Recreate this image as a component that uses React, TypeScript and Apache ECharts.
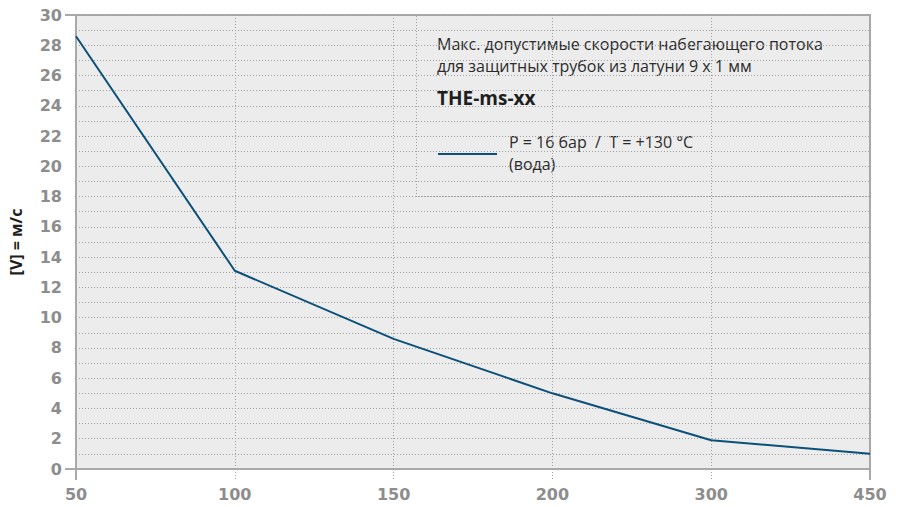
import React, { useEffect, useRef } from "react";
import * as echarts from "echarts";

const categories = ["50", "100", "150", "200", "300", "450"];
const speedValues = [28.6, 13.1, 8.6, 5.0, 1.9, 1.0];
const seriesName = "P = 16 бар / T = +130 °C";
const titleLines = ["Макс. допустимые скорости набегающего потока", "для защитных трубок из латуни 9 x 1 мм"];
const productName = "THE-ms-xx";
const legendLines = ["P = 16 бар \u00a0/\u00a0 T = +130 °C", "(вода)"];
const yAxisName = "[V] = м/с";

export default function App() {
  const ref = useRef<HTMLDivElement>(null);
  useEffect(() => {
    document.body.style.margin = "0";
    const chart = echarts.init(ref.current!, null, { renderer: "svg" });
    const axisGray = "#a9a9a9";
    const gridDot = { color: "#a0a0a0", type: [1, 2] as any, width: 1 };
    const labelStyle = { color: "#8d8d8d", fontSize: 16, fontWeight: "bold" as any, fontFamily: "DejaVu Sans" };
    const boxText = { fill: "#2b2b2b", fontSize: 16, fontFamily: "Open Sans", lineHeight: 22, letterSpacing: 0.3 };
    chart.setOption({
      animation: false,
      backgroundColor: "#ffffff",
      grid: {
        left: 76, right: 33, top: 15, bottom: 38,
        show: true, backgroundColor: "#ececec", borderColor: axisGray, borderWidth: 2,
      },
      xAxis: [
        {
          type: "category", data: categories, boundaryGap: false,
          axisLine: { show: true, lineStyle: { color: axisGray, width: 2 } },
          axisTick: { show: true, length: 11, alignWithLabel: true, lineStyle: gridDot },
          axisLabel: { ...labelStyle, margin: 17 },
          splitLine: { show: true, lineStyle: gridDot },
        },
        {
          type: "value", min: 0, max: 1, interval: 1, position: "bottom",
          axisLine: { show: false },
          axisTick: { show: true, length: 11, lineStyle: { color: axisGray, width: 2 } },
          axisLabel: { show: false }, splitLine: { show: false },
        },
      ],
      yAxis: [
        {
          type: "value", min: 0, max: 30, interval: 2,
          name: yAxisName, nameLocation: "middle", nameGap: 52, nameRotate: 90,
          nameTextStyle: { color: "#1e1e1e", fontSize: 16, fontWeight: "bold", fontFamily: "Open Sans" },
          axisLine: { show: true, lineStyle: { color: axisGray, width: 2 } },
          axisTick: { show: false },
          axisLabel: { ...labelStyle, margin: 14 },
          splitLine: { show: true, lineStyle: gridDot },
          minorTick: { show: false, splitNumber: 2 },
          minorSplitLine: { show: true, lineStyle: gridDot },
        },
        {
          type: "value", min: 0, max: 30, interval: 30, position: "left",
          axisLine: { show: false },
          axisTick: { show: true, length: 11, lineStyle: { color: axisGray, width: 2 } },
          axisLabel: { show: false }, splitLine: { show: false },
        },
      ],
      graphic: [
        {
          type: "group", z: 100,
          children: [
            { type: "rect", shape: { x: 416, y: 16, width: 453, height: 180 }, style: { fill: "#ececec" } },
            { type: "line", shape: { x1: 416.5, y1: 16, x2: 416.5, y2: 196 }, style: { stroke: "#a0a0a0", lineWidth: 1, lineDash: [1, 2] } },
            { type: "line", shape: { x1: 416, y1: 196.5, x2: 869, y2: 196.5 }, style: { stroke: "#a0a0a0", lineWidth: 1, lineDash: [1, 2] } },
            { type: "text", x: 437, y: 33, style: { ...boxText, text: titleLines.join("\n") } },
            { type: "text", x: 437, y: 88, style: { text: productName, fill: "#1e1e1e", font: "bold 19px 'Open Sans'" } },
            { type: "line", shape: { x1: 438, y1: 154, x2: 497, y2: 154 }, style: { stroke: "#0b5079", lineWidth: 2 } },
            { type: "text", x: 509, y: 131, style: { ...boxText, text: legendLines.join("\n") } },
          ],
        },
      ],
      series: [
        {
          name: seriesName, type: "line", data: speedValues, xAxisIndex: 0, yAxisIndex: 0,
          showSymbol: false, lineStyle: { color: "#0b5079", width: 2 }, z: 5,
        },
      ],
    });
    return () => chart.dispose();
  }, []);
  return <div ref={ref} style={{ width: 903, height: 507 }} />;
}
